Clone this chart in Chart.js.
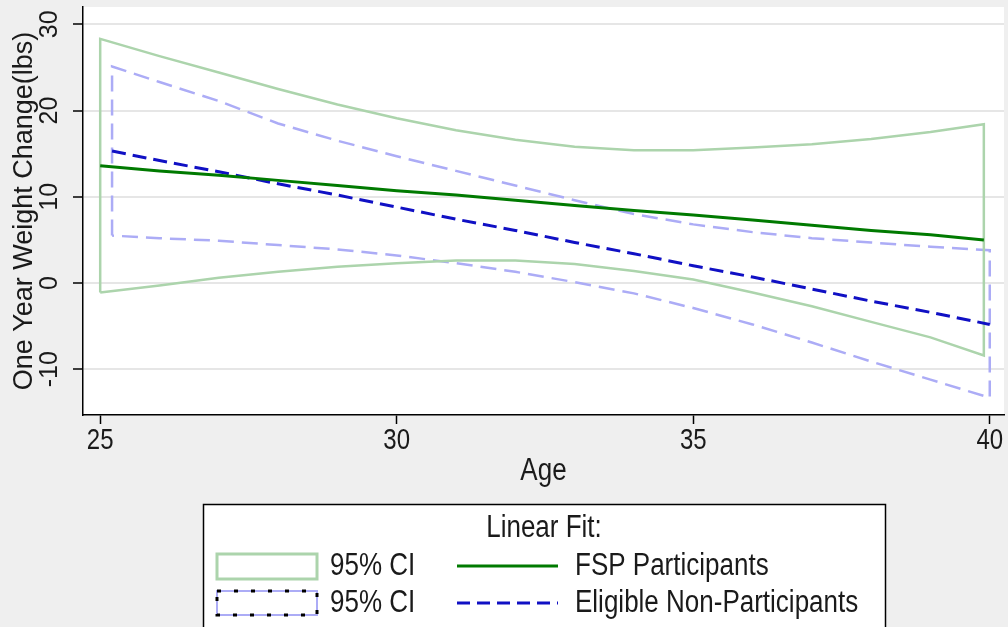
<!DOCTYPE html>
<html>
<head>
<meta charset="utf-8">
<script src="https://cdn.jsdelivr.net/npm/chart.js@4.4.0/dist/chart.umd.min.js"></script>
<style>
  html, body { margin: 0; padding: 0; background: #efefef; }
  #wrap { width: 1008px; height: 627px; }
</style>
</head>
<body>
<div id="wrap"><canvas id="weightChart" width="1008" height="627"></canvas></div>
<script>
// ages where the fits were evaluated
var fspAges = [25, 26, 27, 28, 29, 30, 31, 32, 33, 34, 35, 36, 37, 38, 39, 39.9];
var fspFit = [13.6, 13.0, 12.5, 11.9, 11.3, 10.7, 10.2, 9.6, 9.0, 8.4, 7.9, 7.3, 6.7, 6.1, 5.6, 5.0];
var fspUpper = [28.3, 26.3, 24.4, 22.5, 20.7, 19.1, 17.7, 16.6, 15.8, 15.4, 15.4, 15.7, 16.1, 16.7, 17.5, 18.4];
var fspLower = [-1.1, -0.3, 0.6, 1.3, 1.9, 2.3, 2.6, 2.6, 2.2, 1.4, 0.4, -1.1, -2.7, -4.5, -6.3, -8.4];

var enpAges = [25.2, 26, 27, 28, 29, 30, 31, 32, 33, 34, 35, 36, 37, 38, 39, 40];
var enpFit = [15.3, 14.2, 12.9, 11.5, 10.2, 8.8, 7.4, 6.1, 4.7, 3.4, 2.0, 0.7, -0.7, -2.1, -3.4, -4.8];
var enpUpper = [25.1, 23.3, 21.1, 18.5, 16.5, 14.7, 13.0, 11.3, 9.6, 8.0, 6.8, 5.9, 5.2, 4.7, 4.2, 3.8];
var enpLower = [5.5, 5.2, 4.9, 4.4, 3.9, 3.2, 2.3, 1.3, 0.1, -1.2, -2.9, -4.8, -6.9, -9.1, -11.2, -13.3];

var xTicks = [25, 30, 35, 40];
var yTicks = [-10, 0, 10, 20, 30];

var legendTitle = 'Linear Fit:';
var ciLabel = '95% CI';
var fspLabel = 'FSP Participants';
var enpLabel = 'Eligible Non-Participants';
var yTitle = 'One Year Weight Change(lbs)';
var xTitle = 'Age';

var FONT = '"Liberation Sans", Arial, sans-serif';
var GREEN_CI = 'rgb(172,212,172)';
var GREEN_FIT = 'rgb(0,122,0)';
var BLUE_CI = 'rgb(172,172,246)';
var BLUE_FIT = 'rgb(16,16,196)';

function toPoints(ages, vals) {
    var pts = [];
    for (var i = 0; i < ages.length; i++) pts.push({x: ages[i], y: vals[i]});
    return pts;
}

// closed outline: left edge up, along upper, right edge down, back along lower
function bandOutline(ages, upper, lower) {
    var pts = [{x: ages[0], y: lower[0]}];
    pts = pts.concat(toPoints(ages, upper));
    for (var i = ages.length - 1; i >= 0; i--) pts.push({x: ages[i], y: lower[i]});
    return pts;
}

function stretchedText(ctx, txt, x, y, size, align) {
    ctx.save();
    ctx.translate(x, y);
    ctx.scale(1, 1.2);
    ctx.font = size + 'px ' + FONT;
    ctx.textAlign = align || 'center';
    ctx.textBaseline = 'middle';
    ctx.fillText(txt, 0, 0);
    ctx.restore();
}

var plotBg = {
    id: 'plotBg',
    beforeDraw: function(chart) {
        var ctx = chart.ctx, a = chart.chartArea;
        ctx.save();
        ctx.fillStyle = '#efefef';
        ctx.fillRect(0, 0, chart.width, chart.height);
        ctx.fillStyle = '#ffffff';
        ctx.fillRect(a.left, a.top, a.right - a.left, a.bottom - a.top);
        ctx.restore();
    }
};

var stataText = {
    id: 'stataText',
    afterDraw: function(chart) {
        var ctx = chart.ctx;
        var xs = chart.scales.x, ys = chart.scales.y;
        ctx.save();
        ctx.fillStyle = '#1a1a1a';

        // y tick labels, turned like the reference
        ctx.font = '25px ' + FONT;
        ctx.textAlign = 'center';
        ctx.textBaseline = 'middle';
        yTicks.forEach(function(v) {
            ctx.save();
            ctx.translate(50, ys.getPixelForValue(v));
            ctx.rotate(-Math.PI / 2);
            ctx.fillText(String(v), 0, 0);
            ctx.restore();
        });

        ctx.save();
        ctx.translate(25, (chart.chartArea.top + chart.chartArea.bottom) / 2);
        ctx.rotate(-Math.PI / 2);
        ctx.font = '27px ' + FONT;
        ctx.fillText(yTitle, 0, 0);
        ctx.restore();

        xTicks.forEach(function(v) {
            stretchedText(ctx, String(v), xs.getPixelForValue(v), 441, 24);
        });
        stretchedText(ctx, xTitle, (chart.chartArea.left + chart.chartArea.right) / 2, 471, 26);

        // legend box
        ctx.fillStyle = '#ffffff';
        ctx.fillRect(203.5, 504.5, 682, 140);
        ctx.strokeStyle = '#000000';
        ctx.lineWidth = 1.5;
        ctx.strokeRect(203.5, 504.5, 682, 140);

        ctx.fillStyle = '#1a1a1a';
        stretchedText(ctx, legendTitle, 544, 528, 26);

        ctx.lineWidth = 3;
        ctx.strokeStyle = GREEN_CI;
        ctx.strokeRect(217, 554, 100, 25);

        ctx.lineWidth = 2;
        ctx.strokeStyle = BLUE_CI;
        ctx.strokeRect(217, 591, 100, 24);
        ctx.setLineDash([4, 13]);
        ctx.lineWidth = 3;
        ctx.strokeStyle = '#000000';
        ctx.strokeRect(217, 591, 100, 24);
        ctx.setLineDash([]);

        ctx.fillStyle = '#1a1a1a';
        stretchedText(ctx, ciLabel, 330, 566, 26, 'left');
        stretchedText(ctx, ciLabel, 330, 603, 26, 'left');
        stretchedText(ctx, fspLabel, 575, 566, 26, 'left');
        stretchedText(ctx, enpLabel, 575, 603, 26, 'left');

        ctx.lineWidth = 3;
        ctx.strokeStyle = GREEN_FIT;
        ctx.beginPath(); ctx.moveTo(457, 566); ctx.lineTo(558, 566); ctx.stroke();
        ctx.strokeStyle = BLUE_FIT;
        ctx.setLineDash([13, 7]);
        ctx.beginPath(); ctx.moveTo(457, 603); ctx.lineTo(558, 603); ctx.stroke();
        ctx.setLineDash([]);
        ctx.restore();
    }
};

var ctx = document.getElementById('weightChart').getContext('2d');
var myChart = new Chart(ctx, {
    type: 'scatter',
    data: {
        datasets: [
            {
                label: fspLabel,
                data: toPoints(fspAges, fspFit),
                showLine: true,
                borderColor: GREEN_FIT,
                borderWidth: 3,
                pointRadius: 0,
                fill: false
            },
            {
                label: enpLabel,
                data: toPoints(enpAges, enpFit),
                showLine: true,
                borderColor: BLUE_FIT,
                borderWidth: 3,
                borderDash: [14, 7],
                pointRadius: 0,
                fill: false
            },
            {
                label: ciLabel,
                data: bandOutline(fspAges, fspUpper, fspLower),
                showLine: true,
                borderColor: GREEN_CI,
                borderWidth: 2.5,
                pointRadius: 0,
                fill: false
            },
            {
                label: ciLabel,
                data: bandOutline(enpAges, enpUpper, enpLower),
                showLine: true,
                borderColor: BLUE_CI,
                borderWidth: 2.5,
                borderDash: [16, 8],
                pointRadius: 0,
                fill: false
            }
        ]
    },
    options: {
        responsive: false,
        animation: false,
        layout: { padding: { top: 7, right: 4, left: 0, bottom: 0 } },
        plugins: {
            legend: { display: false },
            tooltip: { enabled: false }
        },
        scales: {
            x: {
                type: 'linear',
                min: 24.71,
                max: 40.24,
                afterBuildTicks: function(scale) {
                    scale.ticks = xTicks.map(function(v) { return {value: v}; });
                },
                afterFit: function(scale) { scale.height = 212; },
                ticks: { color: 'rgba(0,0,0,0)', font: { size: 1 }, padding: 0 },
                grid: {
                    drawOnChartArea: false,
                    tickColor: '#000000',
                    tickLength: 9,
                    tickWidth: 1.5
                },
                border: { color: '#000000', width: 1.5 }
            },
            y: {
                min: -15.3,
                max: 32.0,
                afterBuildTicks: function(scale) {
                    scale.ticks = yTicks.map(function(v) { return {value: v}; });
                },
                afterFit: function(scale) { scale.width = 83; },
                ticks: { color: 'rgba(0,0,0,0)', font: { size: 1 }, padding: 0 },
                grid: {
                    color: '#e6e6e6',
                    lineWidth: 2,
                    tickColor: '#000000',
                    tickLength: 10,
                    tickWidth: 1.5
                },
                border: { color: '#000000', width: 1.5 }
            }
        }
    },
    plugins: [plotBg, stataText]
});
</script>
</body>
</html>
